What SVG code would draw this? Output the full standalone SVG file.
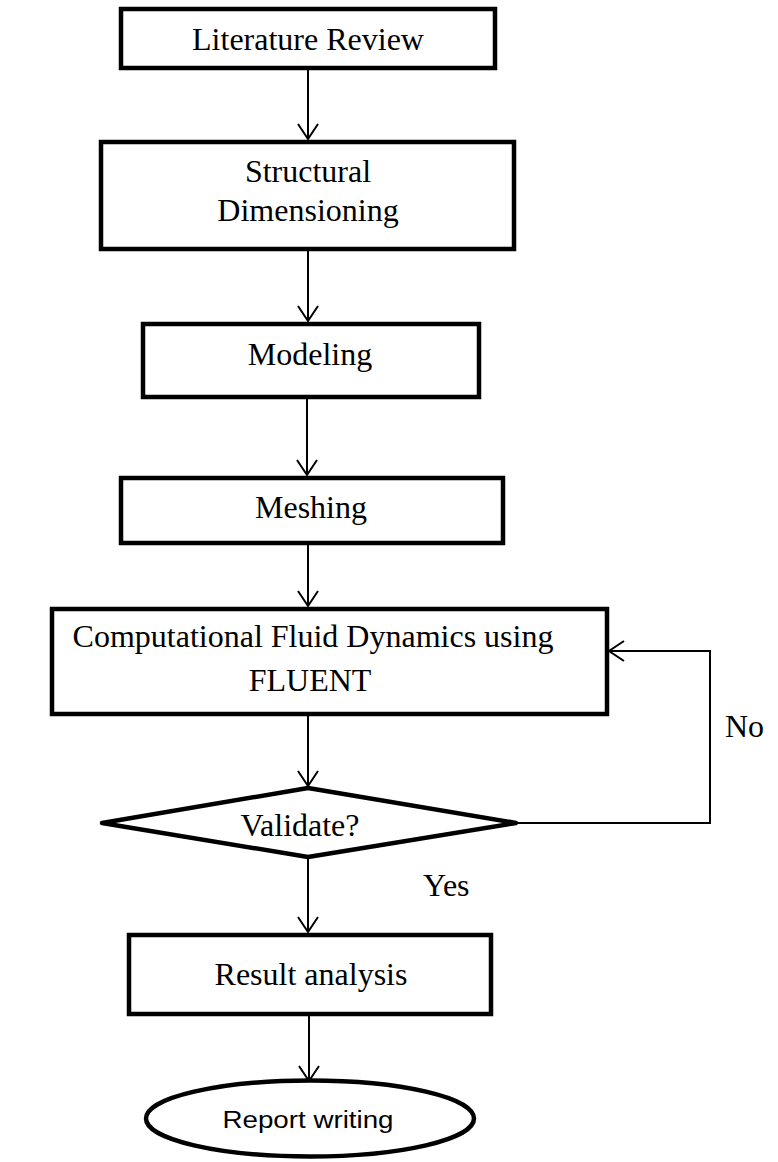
<svg xmlns="http://www.w3.org/2000/svg" width="778" height="1162" viewBox="0 0 778 1162">
  <defs>
    <marker id="arr" markerUnits="userSpaceOnUse" markerWidth="24" markerHeight="24" viewBox="-18 -12 20 24" refX="0" refY="0" orient="auto">
      <path d="M-15,-10 L0,0 L-15,10" fill="none" stroke="#000" stroke-width="2"/>
    </marker>
    <style>
      .box { fill: #fff; stroke: #000; stroke-width: 4.5; }
      .lbl { font-family: "Liberation Serif", "Times New Roman", serif; font-size: 32px; fill: #000; text-anchor: middle; }
      .lbls { font-family: "Liberation Serif", "Times New Roman", serif; font-size: 32px; fill: #000; }
      .conn { fill: none; stroke: #000; stroke-width: 2; marker-end: url(#arr); }
    </style>
  </defs>
  <rect width="778" height="1162" fill="#fff"/>

  <g id="connectors">
    <line class="conn" x1="308" y1="70" x2="308" y2="139"/>
    <line class="conn" x1="308" y1="251" x2="308" y2="321"/>
    <line class="conn" x1="307" y1="399" x2="307" y2="475"/>
    <line class="conn" x1="308" y1="545" x2="308" y2="606"/>
    <line class="conn" x1="308" y1="716" x2="308" y2="786"/>
    <line class="conn" x1="308" y1="859" x2="308" y2="932"/>
    <line class="conn" x1="309" y1="1016" x2="309" y2="1081"/>
    <polyline class="conn" points="518,823 710,823 710,651 609,651"/>
    <text class="lbls" x="423" y="896">Yes</text>
    <text class="lbls" x="725" y="737">No</text>
  </g>

  <g id="literature-review">
    <rect class="box" x="121" y="9" width="374" height="59"/>
    <text class="lbl" x="308" y="50">Literature Review</text>
  </g>

  <g id="structural-dimensioning">
    <rect class="box" x="101" y="142" width="413" height="107"/>
    <text class="lbl" x="308" y="182">Structural</text>
    <text class="lbl" x="308" y="221">Dimensioning</text>
  </g>

  <g id="modeling">
    <rect class="box" x="143" y="324" width="336" height="73"/>
    <text class="lbl" x="310" y="365">Modeling</text>
  </g>

  <g id="meshing">
    <rect class="box" x="121" y="478" width="382" height="65"/>
    <text class="lbl" x="311" y="518">Meshing</text>
  </g>

  <g id="cfd">
    <rect class="box" x="52" y="609" width="555" height="105"/>
    <text class="lbl" x="313" y="647">Computational Fluid Dynamics using</text>
    <text class="lbl" x="310" y="691">FLUENT</text>
  </g>

  <g id="validate">
    <polygon class="box" points="102,823 308,788 516,823 308,857" stroke-linejoin="round"/>
    <text class="lbl" x="300" y="836">Validate?</text>
  </g>

  <g id="result-analysis">
    <rect class="box" x="129" y="935" width="362" height="79"/>
    <text class="lbl" x="311" y="985">Result analysis</text>
  </g>

  <g id="report-writing">
    <ellipse class="box" cx="310" cy="1118.5" rx="164" ry="38"/>
    <text x="308" y="1128" font-family="'Liberation Sans', Arial, sans-serif" font-size="23" text-anchor="middle" textLength="171" lengthAdjust="spacingAndGlyphs" fill="#000">Report writing</text>
  </g>
</svg>
